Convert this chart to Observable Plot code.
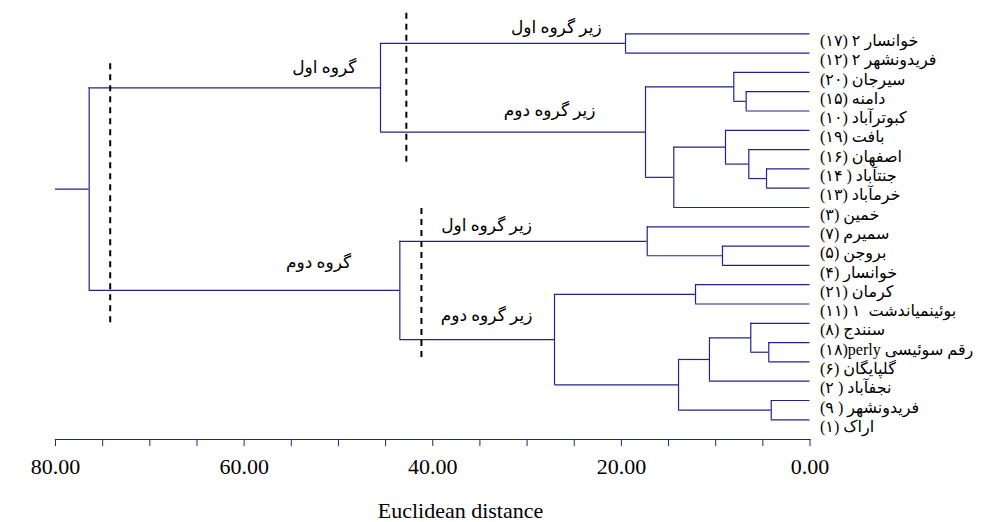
<!DOCTYPE html>
<html><head><meta charset="utf-8">
<script src="https://cdn.jsdelivr.net/npm/d3@7"></script>
<script src="https://cdn.jsdelivr.net/npm/@observablehq/plot@0.6"></script>
<style>body{margin:0;background:#fff}</style>
</head><body><div id="chart"></div>
<script>
// Leaves, top to bottom
const leafLabels = [
  "خوانسار ۲ (۱۷)",
  "فریدونشهر ۲ (۱۲)",
  "سیرجان (۲۰)",
  "دامنه (۱۵)",
  "کبوترآباد (۱۰)",
  "بافت (۱۹)",
  "اصفهان (۱۶)",
  "جنتآباد ( ۱۴)",
  "خرمآباد (۱۳)",
  "خمین (۳)",
  "سمیرم (۷)",
  "بروجن (۵)",
  "خوانسار (۴)",
  "کرمان (۲۱)",
  "بوئینمیاندشت  ۱ (۱۱)",
  "سنندج (۸)",
  "رقم سوئیسی perly\u200F(۱۸)",
  "گلپایگان (۶)",
  "نجفآباد ( ۲)",
  "فریدونشهر ( ۹)",
  "اراک (۱)"
];
// Merges: [childA, childB, distance]; ids 0-20 = leaves, 21+ = merges in order
const merges = [
  [7, 8, 4.61],
  [16, 17, 4.37],
  [19, 20, 4.11],
  [3, 4, 6.77],
  [6, 21, 6.49],
  [15, 22, 6.28],
  [2, 24, 8.08],
  [5, 25, 8.96],
  [11, 12, 9.28],
  [26, 18, 10.66],
  [13, 14, 12.14],
  [30, 23, 13.94],
  [28, 9, 14.44],
  [10, 29, 17.26],
  [27, 33, 17.44],
  [0, 1, 19.56],
  [31, 32, 27.09],
  [36, 35, 45.54],
  [34, 37, 43.49],
  [38, 39, 76.43]
];
const rootStubTo = 80;
const axisTicks = d3.range(0, 81, 5);
const labelledTicks = [0, 20, 40, 60, 80];
const axisTitle = "Euclidean distance";
const groupTexts = ["زیر گروه اول", "گروه اول", "زیر گروه دوم", "زیر گروه اول", "گروه دوم", "زیر گروه دوم"];
const groupDist = [26.9, 51.5, 27.6, 34.3, 52.1, 34.3];
const groupRow = [-0.3, 1.75, 3.97, 9.93, 11.85, 14.6];
const cutDist = [74.2, 42.8, 41.2];
const cutFrom = [1.55, -1.07, 9.05];
const cutTo = [15.17, 6.67, 16.77];

// Build dendrogram geometry
const nodes = leafLabels.map((l, i) => ({x: 0, y: i}));
const hSegs = [], vSegs = [];
for (const [a, b, h] of merges) {
  const A = nodes[a], B = nodes[b];
  hSegs.push({x1: A.x, x2: h, y: A.y}, {x1: B.x, x2: h, y: B.y});
  vSegs.push({x: h, y1: A.y, y2: B.y});
  nodes.push({x: h, y: (A.y + B.y) / 2});
}
const root = nodes[nodes.length - 1];
hSegs.push({x1: root.x, x2: rootStubTo, y: root.y});

const groups = groupTexts.map((t, i) => ({text: t, x: groupDist[i], y: groupRow[i]}));
const cuts = cutDist.map((x, i) => ({x, y1: cutFrom[i], y2: cutTo[i]}));

const navy = "#23238f";
const serif = "'Liberation Serif', 'Times New Roman', 'DejaVu Sans', serif";

const chart = Plot.plot({
  width: 988,
  height: 522,
  marginLeft: 55,
  marginRight: 178.5,
  marginTop: 20,
  marginBottom: 83,
  style: {fontFamily: serif, background: "#fff"},
  x: {domain: [80, 0]},
  y: {domain: [0, 20], range: [33.3, 419.3], axis: null},
  marks: [
    Plot.ruleY(hSegs, {x1: "x1", x2: "x2", y: "y", stroke: navy, strokeWidth: 1.2}),
    Plot.ruleX(vSegs, {x: "x", y1: "y1", y2: "y2", stroke: navy, strokeWidth: 1.2}),
    Plot.ruleX(cuts, {x: "x", y1: "y1", y2: "y2", stroke: "black", strokeWidth: 2, strokeDasharray: "6,5"}),
    Plot.text(leafLabels, {x: 0, y: (d, i) => i, text: d => "\u202B" + d + "\u202C", textAnchor: "start", dx: 10, dy: 7, fontSize: 16, fill: "black", fontFamily: serif}),
    Plot.text(groups, {x: "x", y: "y", text: "text", fontSize: 17, fill: "black", fontFamily: serif}),
    Plot.frame({anchor: "bottom", stroke: navy, strokeWidth: 1.2}),
    Plot.axisX({ticks: axisTicks, tickSize: 7, tickPadding: 12, stroke: navy, fill: "black", fontSize: 22,
      tickFormat: d => labelledTicks.includes(d) ? d.toFixed(2) : "", label: null}),
    Plot.text([axisTitle], {x: 37.06, frameAnchor: "bottom", dy: 78, fontSize: 22, fill: "black", fontFamily: serif})
  ]
});
document.getElementById("chart").appendChild(chart);
</script>
</body></html>
